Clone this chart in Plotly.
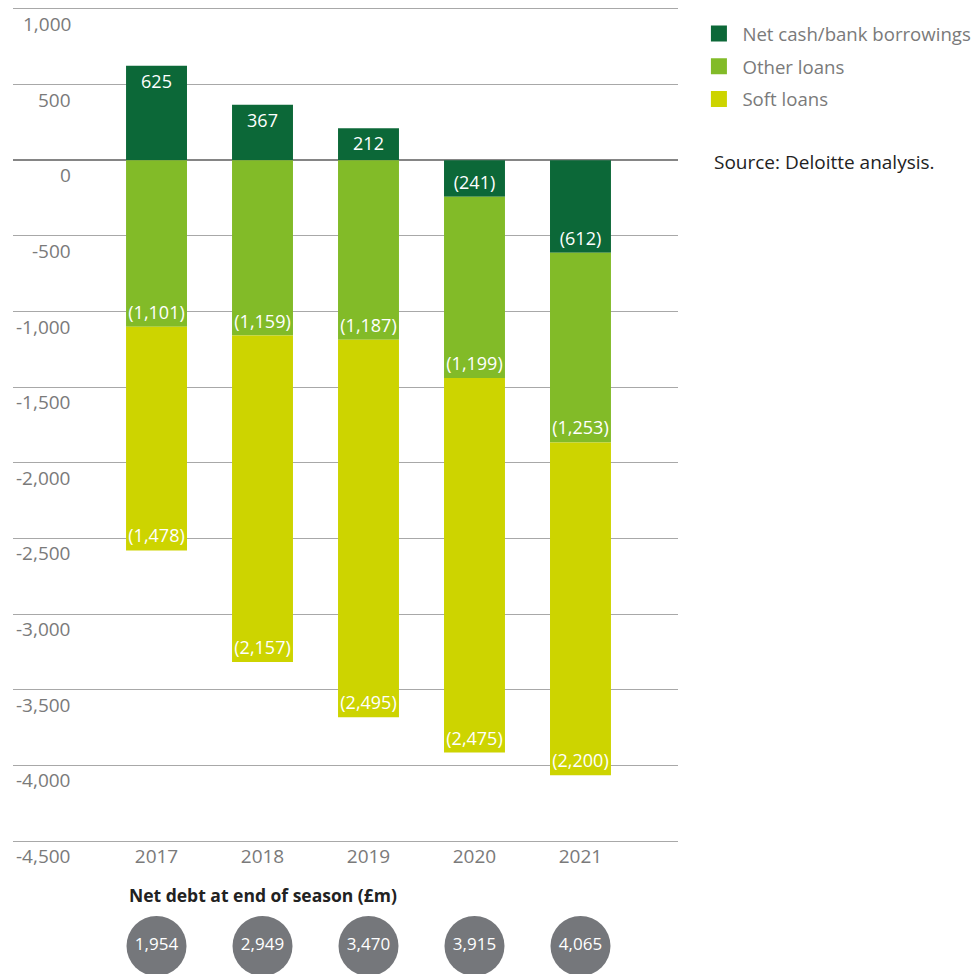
import plotly.graph_objects as go

years = ["2017", "2018", "2019", "2020", "2021"]
net_cash = [625, 367, 212, -241, -612]
other_loans = [-1101, -1159, -1187, -1199, -1253]
soft_loans = [-1478, -2157, -2495, -2475, -2200]
net_debt = [1954, 2949, 3470, 3915, 4065]

y_ticks = [1000, 500, 0, -500, -1000, -1500, -2000, -2500, -3000, -3500, -4000, -4500]
y_tick_labels = ["1,000", "500", "0", "-500", "-1,000", "-1,500", "-2,000", "-2,500",
                 "-3,000", "-3,500", "-4,000", "-4,500"]

series = [
    ("Net cash/bank borrowings", net_cash, "#0C6838"),
    ("Other loans", other_loans, "#82BB28"),
    ("Soft loans", soft_loans, "#CDD400"),
]

FONT = "Open Sans"
GREY = "#7a7a7a"
GRID = "#a8a8a8"


def fmt(v):
    return f"({abs(v):,})" if v < 0 else f"{v:,}"


fig = go.Figure()
for name, vals, col in series:
    fig.add_trace(go.Bar(
        x=years, y=vals, name=name, marker=dict(color=col, line=dict(width=0)),
        text=[fmt(v) for v in vals], textposition="inside", insidetextanchor="end",
        textangle=0, constraintext="none",
        textfont=dict(color="white", size=18, family=FONT),
        showlegend=False, hoverinfo="skip",
    ))
for name, vals, col in series:
    fig.add_trace(go.Scatter(
        x=[None], y=[None], mode="markers", name=name, legendgroup=name,
        marker=dict(symbol="square", size=16, color=col),
    ))

# net debt circles
fig.add_trace(go.Scatter(
    x=years, y=[0.5] * len(years), yaxis="y2", mode="markers+text",
    marker=dict(size=60, color="#75777B"),
    text=[f"{v:,}" for v in net_debt], textposition="middle center",
    textfont=dict(color="white", size=17, family=FONT),
    showlegend=False, hoverinfo="skip", cliponaxis=False,
))

annotations = []
for v, lab in zip(y_ticks, y_tick_labels):
    annotations.append(dict(
        x=0.0902, xref="paper", y=v, yref="y", text=lab, showarrow=False,
        xanchor="right", yanchor="middle", yshift=-15,
        font=dict(size=19, color=GREY, family=FONT),
    ))
annotations.append(dict(
    x=0.1714, xref="paper", y=0.0894, yref="paper", text="<b>Net debt at end of season (£m)</b>",
    showarrow=False, xanchor="left", yanchor="middle",
    font=dict(size=17.5, color="#222222", family=FONT),
))
annotations.append(dict(
    x=1.0511, xref="paper", y=0.8428, yref="paper", text="Source: Deloitte analysis.",
    showarrow=False, xanchor="left", yanchor="middle",
    font=dict(size=19, color="#222222", family=FONT),
))

fig.update_layout(
    width=980, height=974,
    margin=dict(l=5, r=310, t=1, b=0),
    plot_bgcolor="white", paper_bgcolor="white",
    barmode="relative", bargap=0.425,
    font=dict(family=FONT, size=19, color=GREY),
    xaxis=dict(range=[-1.354, 4.92], showgrid=False, zeroline=False,
               showline=True, mirror=True, linecolor=GRID, linewidth=1.2,
               ticks="", ticklabelstandoff=-2, tickfont=dict(size=19, color=GREY, family=FONT)),
    yaxis=dict(domain=[0.1449, 1.0], range=[-4500, 1000], tickvals=y_ticks,
               showticklabels=False, showgrid=True, gridcolor=GRID, gridwidth=1.2,
               zeroline=True, zerolinecolor="#858585", zerolinewidth=1.5, showline=False),
    yaxis2=dict(domain=[0, 0.074], range=[0, 1], visible=False, anchor="x"),
    legend=dict(x=1.0262, y=0.9938, xanchor="left", yanchor="top", itemwidth=37,
                font=dict(size=18.6, color=GREY, family=FONT),
                traceorder="grouped", tracegroupgap=5.5, bgcolor="rgba(0,0,0,0)"),
    annotations=annotations,
    showlegend=True,
)

fig.write_html("out.html")
